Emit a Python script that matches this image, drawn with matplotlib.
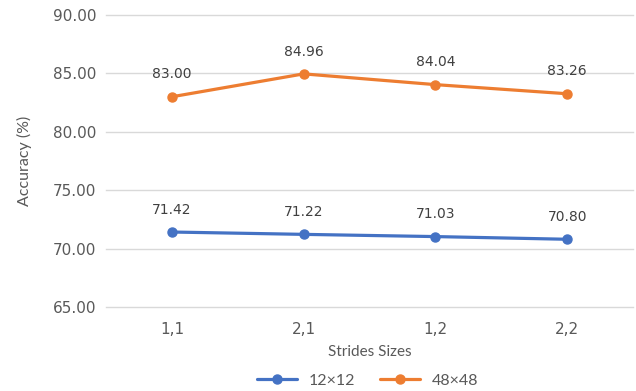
import matplotlib.pyplot as plt

strides = ["1,1", "2,1", "1,2", "2,2"]
acc_12 = [71.42, 71.22, 71.03, 70.80]
acc_48 = [83.00, 84.96, 84.04, 83.26]
series = [("12\u00d712", acc_12, "#4472C4"), ("48\u00d748", acc_48, "#ED7D31")]
yticks = [65, 70, 75, 80, 85, 90]

text_gray = "#595959"
grid_gray = "#D9D9D9"
title_font = ["Lato", "DejaVu Sans"]

fig = plt.figure(figsize=(6.36, 3.91), dpi=100)
ax = fig.add_axes([0.1667, 0.2148, 0.8286, 0.7468])

x = range(len(strides))
for name, vals, color in series:
    ax.plot(x, vals, color=color, lw=2.3, marker="o", ms=6.5, label=name,
            solid_capstyle="round")
    for xi, v in zip(x, vals):
        ax.annotate(f"{v:.2f}", (xi, v), xytext=(0, 11), textcoords="offset points",
                    ha="center", va="bottom", fontsize=10, color="#404040",
                    family="DejaVu Sans")

ax.set_xlim(-0.5, len(strides) - 0.5)
ax.set_ylim(65, 90)
ax.set_yticks(yticks)
ax.set_yticklabels([f"{t:.2f}" for t in yticks], family="DejaVu Sans", fontsize=11,
                   color=text_gray)
ax.set_xticks(list(x))
ax.set_xticklabels(strides, family="DejaVu Sans", fontsize=11, color=text_gray)
ax.tick_params(length=0, pad=11)
ax.tick_params(axis="y", pad=7)
ax.grid(axis="y", color=grid_gray, lw=1)
for gl in ax.get_ygridlines():
    gl.set_clip_on(False)
ax.set_axisbelow(True)
for s in ax.spines.values():
    s.set_visible(False)

ax.set_ylabel("Accuracy (%)", family=title_font, fontsize=11.5, color=text_gray,
              va="center")
ax.yaxis.set_label_coords(-0.154, 0.5)
ax.set_xlabel("Strides Sizes", family=title_font, fontsize=11, color=text_gray,
              va="center")
ax.xaxis.set_label_coords(0.5, -0.154)

leg = fig.legend(loc="center", ncol=2, frameon=False, bbox_to_anchor=(0.578, 0.026),
                 prop={"family": title_font, "size": 11.5},
                 handlelength=2.5, columnspacing=1.5, handletextpad=0.75)
for t in leg.get_texts():
    t.set_color(text_gray)

fig.savefig("out.png", dpi=100)
